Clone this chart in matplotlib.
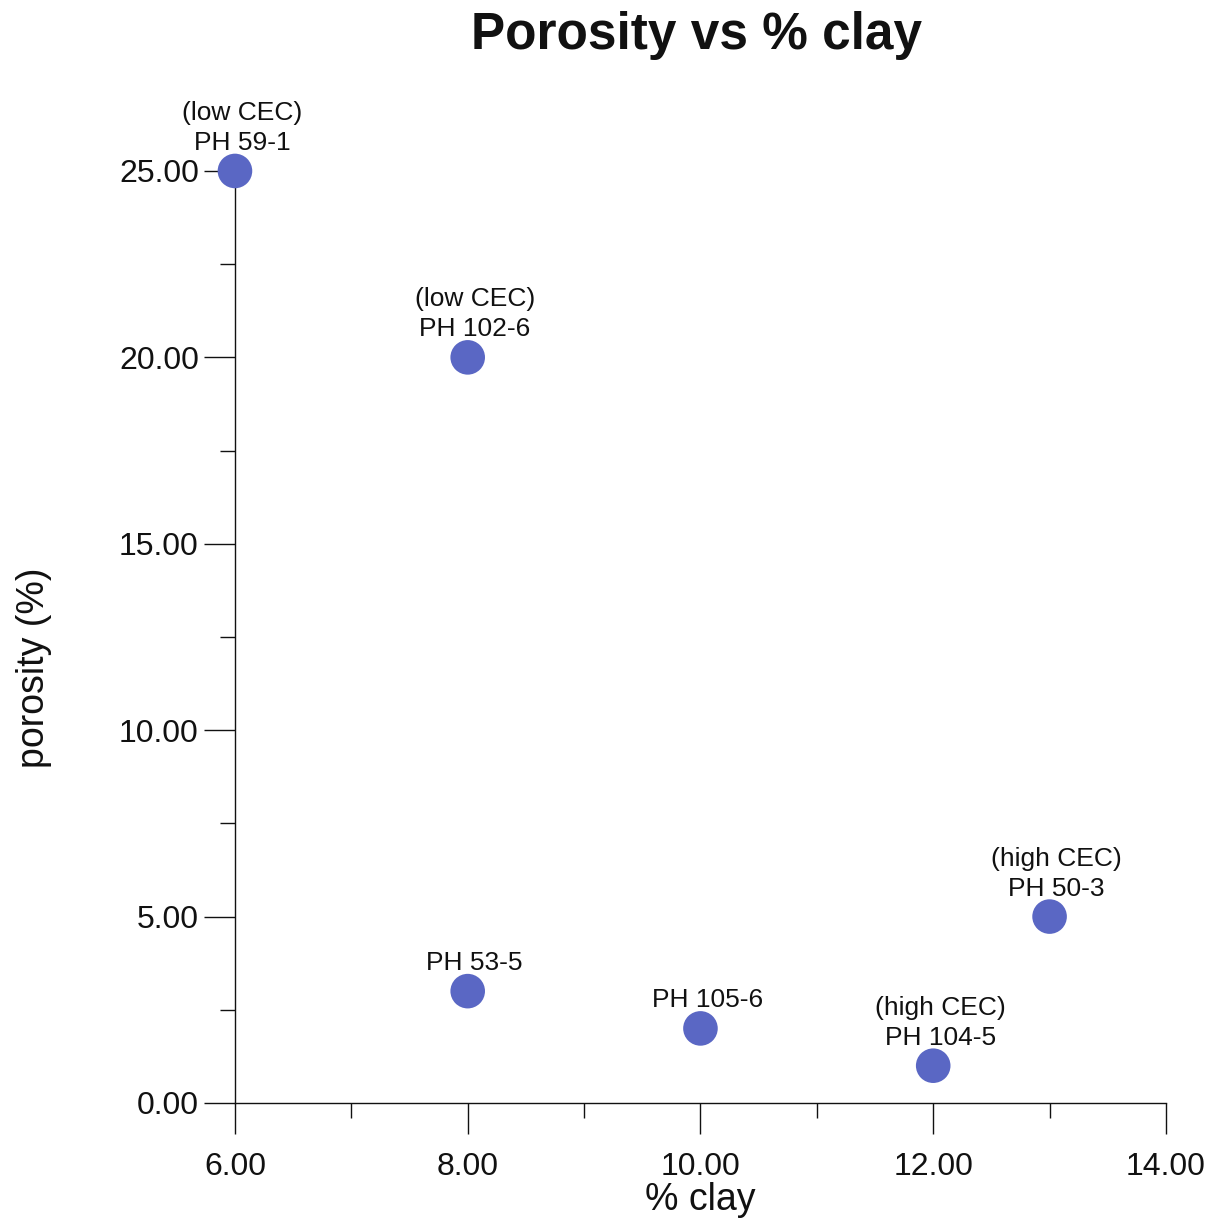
import matplotlib
matplotlib.use("Agg")
import matplotlib.pyplot as plt
from matplotlib.ticker import MultipleLocator, FormatStrFormatter

# Sample measurements
clay_pct = [6, 8, 8, 10, 12, 13]
porosity_pct = [25, 20, 3, 2, 1, 5]
sample_labels = [
    "(low CEC)\nPH 59-1",
    "(low CEC)\nPH 102-6",
    "PH 53-5",
    "PH 105-6",
    "(high CEC)\nPH 104-5",
    "(high CEC)\nPH 50-3",
]

plt.rcParams["font.family"] = ["Liberation Sans", "DejaVu Sans"]

fig = plt.figure(figsize=(12.25, 12.22), dpi=100)
ax = fig.add_axes([0.1918, 0.0974, 0.7600, 0.7627])

ax.scatter(clay_pct, porosity_pct, s=620, color="#5a67c4", edgecolors="none",
           zorder=3, clip_on=False)

for x, y, lab in zip(clay_pct, porosity_pct, sample_labels):
    ax.annotate(lab, (x, y), xytext=(5, 11.5), textcoords="offset points",
                ha="center", va="bottom", fontsize=19, color="#111111",
                linespacing=1.32)

ax.set_xlim(6, 14)
ax.set_ylim(0, 25)

ax.xaxis.set_major_locator(MultipleLocator(2))
ax.xaxis.set_minor_locator(MultipleLocator(1))
ax.yaxis.set_major_locator(MultipleLocator(5))
ax.yaxis.set_minor_locator(MultipleLocator(2.5))
ax.xaxis.set_major_formatter(FormatStrFormatter("%.2f"))
ax.yaxis.set_major_formatter(FormatStrFormatter("%.2f"))

ax.tick_params(axis="both", which="major", direction="out", length=22,
               width=1, labelsize=23, colors="#111111")
ax.tick_params(axis="x", which="major", pad=13)
ax.tick_params(axis="y", which="major", pad=4)
ax.tick_params(axis="both", which="minor", direction="out", length=11, width=1,
               colors="#111111")

for side in ("top", "right"):
    ax.spines[side].set_visible(False)
for side in ("left", "bottom"):
    ax.spines[side].set_linewidth(1)
    ax.spines[side].set_color("#111111")

ax.set_xlabel("% clay", fontsize=27, color="#111111", labelpad=0)

fig.text(34 / 1225, 1 - 668 / 1222, "porosity (%)", rotation=90,
         ha="center", va="center", fontsize=27, color="#111111")

fig.text(0.569, 0.971, "Porosity vs % clay", ha="center", va="center",
         fontsize=37, fontweight="bold", color="#111111")

fig.savefig("out.png", dpi=100, facecolor="white")
